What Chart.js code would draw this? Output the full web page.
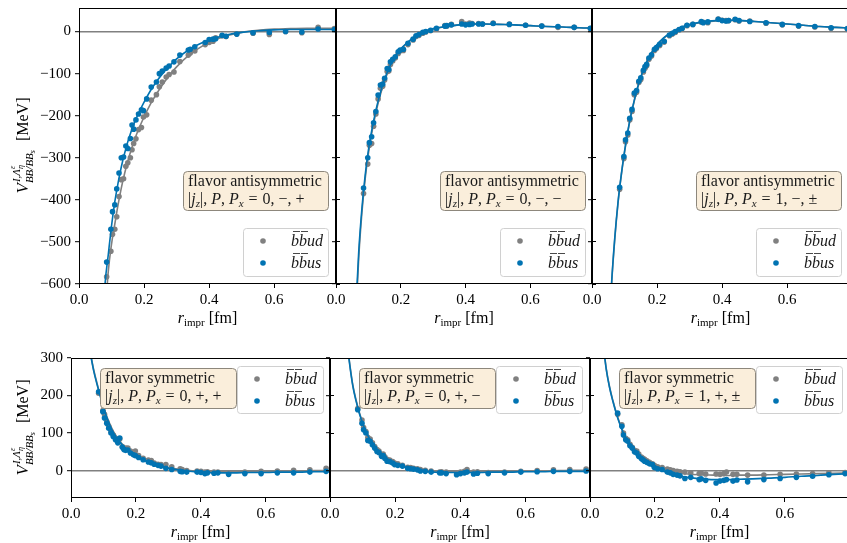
<!DOCTYPE html>
<html><head><meta charset="utf-8">
<script src="https://cdn.jsdelivr.net/npm/chart.js@4/dist/chart.umd.min.js"></script>
<style>
html,body{margin:0;padding:0;background:#fff;overflow:hidden;width:847px;height:543px;position:relative;}
canvas{position:absolute;}
</style></head><body>
<script>
// ---------- data ----------
const R = [0.085,0.098,0.103,0.110,0.116,0.123,0.130,0.137,0.144,0.150,0.158,0.163,0.168,0.175,0.183,0.192,0.198,0.208,0.222,0.238,0.247,0.256,0.268,0.277,0.292,0.310,0.336,0.342,0.356,0.388,0.400,0.412,0.420,0.440,0.452,0.485,0.535,0.585,0.635,0.685,0.735,0.785];
const RC = [0.04,0.05,0.06,0.07,0.08,0.09,0.10,0.11,0.12,0.13,0.14,0.15,0.16,0.17,0.18,0.20,0.22,0.24,0.26,0.28,0.30,0.34,0.38,0.42,0.46,0.50,0.55,0.60,0.65,0.70,0.75,0.80];

const A1_UD = [-583,-522,-482,-470,-440,-392,-352,-350,-320,-312,-300,-281,-266,-255,-233,-228,-203,-198,-163,-150,-131,-120,-108,-102,-96,-71,-56,-51,-46,-31,-26,-23,-15,-10,-12,-6,-4,-7,0,-3,10,7];
const A1_US = [-548,-470,-428,-412,-374,-336,-300,-298,-272,-278,-254,-222,-232,-210,-196,-186,-188,-160,-132,-120,-100,-94,-87,-82,-72,-56,-44,-42,-36,-26,-19,-18,-17,-9,-11,-6,-3,-2,0,-1,6,5];
const A1_UD_FIT = [null,null,null,null,-680,-570,-505,-458,-412,-372,-338,-308,-282,-259,-238,-203,-172,-146,-123,-102,-84,-55,-34,-19,-9,-2,3,6,7,8,8,8];
const A1_US_FIT = [null,null,null,-730,-600,-530,-462,-405,-360,-322,-290,-262,-238,-217,-199,-168,-140,-117,-97,-80,-65,-42,-26,-15,-7,-2,2,4,5,5,5,5];

const A2_UD = [-385,-315,-270,-266,-225,-196,-160,-135,-130,-115,-95,-94,-78,-70,-63,-52,-46,-45,-31,-20,-12,-9,-4,-1,2,6,14,13,17,24,18,20,19,19,18,20,18,15,13,10,10,7];
const A2_US = [-372,-300,-264,-250,-217,-190,-151,-127,-125,-111,-88,-90,-72,-66,-60,-48,-44,-42,-28,-18,-10,-7,-2,0,3,8,13,14,16,18,16,17,18,18,18,19,17,15,13,12,10,8];
const A2_UD_FIT = [null,null,-700,-540,-430,-350,-290,-243,-204,-170,-142,-117,-97,-80,-65,-43,-27,-15,-6,1,6,12,16,18,18,17,16,14,12,11,9,8];
const A2_US_FIT = [null,null,-680,-525,-420,-342,-282,-236,-198,-165,-137,-113,-93,-76,-62,-41,-26,-14,-5,2,7,12,16,18,18,17,16,14,12,11,9,8];

const A3_UD = [-375,-302,-262,-246,-210,-190,-150,-144,-121,-114,-96,-87,-81,-66,-58,-45,-40,-33,-25,-10,-6,-2,4,7,14,17,22,22,21,30,27,26,26,28,25,25,20,16,13,11,8,6];
const A3_US = [-370,-297,-257,-241,-206,-185,-146,-140,-118,-110,-92,-83,-78,-63,-55,-42,-38,-30,-23,-8,-4,0,5,8,15,17,24,21,23,29,26,25,26,29,26,24,21,17,14,12,9,7];
const A3_UD_FIT = [null,-770,-605,-494,-408,-342,-287,-239,-199,-165,-135,-110,-88,-70,-55,-32,-16,-5,4,11,16,22,25,27,26,24,21,18,15,12,10,8];
const A3_US_FIT = [null,-760,-600,-490,-405,-340,-285,-237,-197,-163,-133,-108,-87,-69,-54,-31,-15,-4,5,12,17,23,26,27,26,24,21,18,15,12,10,8];

const B1_UD = [206,160,150,130,118,104,95,86,78,84,64,58,60,60,52,46,52,40,33,28,27,20,17,16,16,10,5,3,0,-1,-2,-4,-3,-4,-4,-6,-4,-2,-1,1,2,6];
const B1_US = [210,157,140,126,113,100,91,82,74,87,62,56,54,55,47,42,40,35,29,23,21,17,14,12,6,3,-2,-3,-4,-4,-5,-8,-6,-7,-6,-10,-8,-8,-6,-6,-4,-2];
const B1_UD_FIT = [null,null,312,268,233,201,171,145,123,105,91,79,68,59,52,40,31,23,17,12,8,2,-1,-2,-3,-3,-2,-2,-1,-1,0,0];
const B1_US_FIT = [null,null,310,265,230,198,168,142,120,102,88,76,66,57,50,38,29,22,16,11,6,1,-3,-5,-6,-6,-5,-5,-4,-4,-3,-3];

const B2_UD = [165,135,115,104,88,84,74,64,56,52,43,44,37,30,28,24,20,18,14,9,8,6,5,3,1,-1,-4,-3,-4,-6,-4,-2,3,-4,-3,-5,-4,-2,0,2,3,4];
const B2_US = [162,126,109,100,80,78,69,60,51,48,38,40,33,25,24,20,16,14,12,6,5,4,2,-1,-2,-4,-6,-6,-8,-11,-8,-6,-4,-9,-7,-8,-6,-4,-3,-2,-2,-1];
const B2_UD_FIT = [null,362,288,228,188,155,129,107,90,76,64,53,44,37,31,21,14,8,3,0,-2,-3,-3,-3,-3,-2,-2,-1,-1,0,1,1];
const B2_US_FIT = [null,360,285,225,185,152,126,104,87,73,61,51,42,35,29,19,12,6,2,-1,-3,-5,-5,-5,-5,-4,-4,-3,-3,-2,-2,-2];

const B3_UD = [150,122,100,86,82,70,62,54,52,44,36,33,30,26,22,18,14,10,8,4,2,0,-2,-3,-4,-6,-8,-6,-9,-9,-10,-8,-4,-10,-10,-12,-12,-10,-9,-8,-6,-5];
const B3_US = [153,118,95,82,78,66,60,50,47,38,32,29,25,22,18,16,8,5,3,-4,-6,-10,-12,-14,-21,-18,-24,-22,-26,-33,-28,-26,-24,-28,-25,-30,-24,-21,-18,-15,-11,-8];
const B3_UD_FIT = [342,272,224,188,157,130,108,90,76,63,52,43,35,28,22,11,5,0,-4,-7,-9,-11,-12,-13,-12,-12,-11,-10,-9,-8,-7,-6];
const B3_US_FIT = [340,270,222,186,155,128,105,88,73,60,49,40,32,25,19,7,0,-6,-11,-15,-18,-22,-24,-24,-23,-22,-20,-18,-15,-13,-10,-8];

const X_TICKS = [0, 0.2, 0.4, 0.6];
const Y_TICKS_TOP = [-600,-500,-400,-300,-200,-100,0];
const Y_TICKS_BOT = [0,100,200,300];
const SERIES = ['bbud','bbus'];
const TITLES = ['flavor antisymmetric','flavor antisymmetric','flavor antisymmetric','flavor symmetric','flavor symmetric','flavor symmetric'];
const QN = [['0','\u2212','+'],['0','\u2212','\u2212'],['1','\u2212','\u00b1'],['0','+','+'],['0','+','\u2212'],['1','+','\u00b1']];

// ---------- style ----------
const FONT = "'Liberation Serif','DejaVu Serif',serif";
const GRAY = '#808080', BLUE = '#0173b2';
const fnt = (s, it) => (it ? 'italic ' : '') + s + 'px ' + FONT;

// run: [text, size, italic, dy] or [null, gapPx]
function runs(ctx, list, x, y) {
  for (const r of list) {
    if (r[0] === null) { x += r[1]; continue; }
    const [t, s, it, dy] = r;
    ctx.font = fnt(s, it);
    ctx.fillText(t, x, y + dy);
    x += ctx.measureText(t).width;
  }
  return x;
}
function runsWidth(ctx, list) {
  let w = 0;
  for (const r of list) {
    if (r[0] === null) { w += r[1]; continue; }
    ctx.font = fnt(r[1], r[2]); w += ctx.measureText(r[0]).width;
  }
  return w;
}
function rrect(ctx, x, y, w, h, r) {
  ctx.beginPath();
  ctx.moveTo(x + r, y); ctx.lineTo(x + w - r, y); ctx.quadraticCurveTo(x + w, y, x + w, y + r);
  ctx.lineTo(x + w, y + h - r); ctx.quadraticCurveTo(x + w, y + h, x + w - r, y + h);
  ctx.lineTo(x + r, y + h); ctx.quadraticCurveTo(x, y + h, x, y + h - r);
  ctx.lineTo(x, y + r); ctx.quadraticCurveTo(x, y, x + r, y); ctx.closePath();
}

const PANELS = [
  {L:79, R:336, T:8, B:284, xmax:0.79, ymin:-600, ymax:56, yt:Y_TICKS_TOP, ud:A1_UD, us:A1_US, udf:A1_UD_FIT, usf:A1_US_FIT, i:0, first:true, top:true},
  {L:336, R:592, T:8, B:284, xmax:0.79, ymin:-600, ymax:56, yt:Y_TICKS_TOP, ud:A2_UD, us:A2_US, udf:A2_UD_FIT, usf:A2_US_FIT, i:1, first:false, top:true},
  {L:592, R:849, T:8, B:284, xmax:0.79, ymin:-600, ymax:56, yt:Y_TICKS_TOP, ud:A3_UD, us:A3_US, udf:A3_UD_FIT, usf:A3_US_FIT, i:2, first:false, top:true},
  {L:71, R:330, T:358, B:498, xmax:0.797, ymin:-73, ymax:300, yt:Y_TICKS_BOT, ud:B1_UD, us:B1_US, udf:B1_UD_FIT, usf:B1_US_FIT, i:3, first:true, top:false},
  {L:330, R:590, T:358, B:498, xmax:0.797, ymin:-73, ymax:300, yt:Y_TICKS_BOT, ud:B2_UD, us:B2_US, udf:B2_UD_FIT, usf:B2_US_FIT, i:4, first:false, top:false},
  {L:590, R:849, T:358, B:498, xmax:0.797, ymin:-73, ymax:300, yt:Y_TICKS_BOT, ud:B3_UD, us:B3_US, udf:B3_UD_FIT, usf:B3_US_FIT, i:5, first:false, top:false},
];

const pts = (xs, ys) => xs.map((x, k) => ({x: x, y: ys[k]}));
const fmtY = v => v < 0 ? '\u2212' + Math.abs(v) : String(v);

function makePanel(p) {
  const padL = p.first ? p.L : 30, padR = 20, padT = 16, padB = p.top ? 50 : 45;
  const W = p.R - p.L + padL + padR, H = p.B - p.T + padT + padB;
  const c = document.createElement('canvas');
  c.width = W; c.height = H;
  c.style.left = (p.L - padL) + 'px'; c.style.top = (p.T - padT) + 'px';
  c.style.width = W + 'px'; c.style.height = H + 'px';
  document.body.appendChild(c);

  const yTicks = s => { s.ticks = p.yt.map(v => ({value: v})); };
  const deco = {
    id: 'deco',
    afterDraw(chart) {
      const ctx = chart.ctx, a = chart.chartArea;
      ctx.save();
      // frame
      ctx.strokeStyle = '#000'; ctx.lineWidth = 1;
      ctx.strokeRect(Math.round(a.left) + 0.5, Math.round(a.top) + 0.5, Math.round(a.right - a.left) - 1, Math.round(a.bottom - a.top) - 1);
      ctx.textBaseline = 'alphabetic';
      // annotation box
      let ax, ay, aw, ah, lx, ly, lw, lh;
      if (p.top) { ax = a.left + 104; ay = a.top + 163; aw = 145; ah = 39; lx = a.left + 164; ly = a.top + 220; lw = 85; lh = 48; }
      else { ax = a.left + 29; ay = a.top + 10; aw = 136; ah = 40; lx = a.left + 166; ly = a.top + 8; lw = 86; lh = 47; }
      rrect(ctx, ax + 0.5, ay + 0.5, aw, ah, 4);
      ctx.fillStyle = '#faeedb'; ctx.fill();
      ctx.strokeStyle = '#8d877c'; ctx.lineWidth = 1; ctx.stroke();
      ctx.fillStyle = '#1a1a1a';
      runs(ctx, [[TITLES[p.i], 16, false, 0]], ax + 5, ay + 15);
      const q = QN[p.i];
      runs(ctx, [['|', 16, false, 0], ['j', 16, true, 0], ['z', 11, true, 3], ['|,', 16, false, 0], [null, 4],
                 ['P', 16, true, 0], [',', 16, false, 0], [null, 4], ['P', 16, true, 0], ['x', 11, true, 3],
                 [null, 5], ['=', 16, false, 0], [null, 5], [q[0] + ',', 16, false, 0], [null, 4],
                 [q[1] + ',', 16, false, 0], [null, 4], [q[2], 16, false, 0]], ax + 5, ay + 33);
      // legend
      rrect(ctx, lx + 0.5, ly + 0.5, lw, lh, 3);
      ctx.fillStyle = 'rgba(255,255,255,0.85)'; ctx.fill();
      ctx.strokeStyle = '#d0d0d0'; ctx.stroke();
      const cols = [GRAY, BLUE];
      for (let k = 0; k < 2; k++) {
        const yy = ly + 13 + k * 22;
        ctx.fillStyle = cols[k];
        ctx.beginPath(); ctx.arc(lx + 20, yy, 2.8, 0, Math.PI * 2); ctx.fill();
        ctx.fillStyle = '#1a1a1a';
        ctx.font = fnt(16, true);
        const tx = lx + 48;
        ctx.fillText(SERIES[k], tx, yy + 5);
        const wb = ctx.measureText('b').width;
        ctx.strokeStyle = '#1a1a1a'; ctx.lineWidth = 0.8;
        ctx.beginPath();
        ctx.moveTo(tx + 2, yy - 9.5); ctx.lineTo(tx + wb + 1, yy - 9.5);
        ctx.moveTo(tx + wb + 2, yy - 9.5); ctx.lineTo(tx + 2 * wb + 1, yy - 9.5);
        ctx.stroke();
      }
      // x title
      ctx.fillStyle = '#000';
      const xt = [['r', 16, true, 0], ['impr', 11, false, 3], [null, 4], ['[fm]', 16, false, 0]];
      const xw = runsWidth(ctx, xt);
      runs(ctx, xt, (a.left + a.right) / 2 - xw / 2, a.bottom + 39);
      // y title
      if (p.first) {
        ctx.save();
        ctx.translate(28, (a.top + a.bottom) / 2);
        ctx.rotate(-Math.PI / 2);
        ctx.font = fnt(17, true);
        const wV = ctx.measureText('V').width;
        ctx.font = fnt(11, true); const wSup = ctx.measureText('I,\u039b').width;
        ctx.font = fnt(8, true); const wE = ctx.measureText('\u03b5').width;
        ctx.font = fnt(11, true); const wSub = ctx.measureText('BB/BB').width;
        ctx.font = fnt(8, true); const wS = ctx.measureText('s').width;
        ctx.font = fnt(16, false); const wM = ctx.measureText('[MeV]').width;
        const sw = Math.max(wSup + wE + 1, wSub + wS);
        const total = wV + sw + 8 + wM;
        const x0 = -total / 2;
        runs(ctx, [['V', 17, true, 0]], x0, 0);
        const xs = x0 + wV + 1;
        const xx = runs(ctx, [['I,\u039b', 11, true, -8]], xs, 0);
        runs(ctx, [['\u03b5', 8, true, -13]], xx, 0);
        runs(ctx, [['\u03b7', 8, true, -5]], xx, 0);
        const xb = runs(ctx, [['BB/BB', 11, true, 5]], xs - 1, 0);
        runs(ctx, [['s', 8, true, 7]], xb, 0);
        runs(ctx, [['[MeV]', 16, false, 0]], xs + sw + 8, 0);
        ctx.restore();
      }
      ctx.restore();
    }
  };

  new Chart(c, {
    type: 'scatter',
    data: {datasets: [
      {data: pts(R, p.us), backgroundColor: BLUE, borderColor: BLUE, pointRadius: 2.8, pointBorderWidth: 0, order: 0},
      {data: pts(RC, p.usf), showLine: true, borderColor: BLUE, borderWidth: 1.6, pointRadius: 0, cubicInterpolationMode: 'monotone', order: 1},
      {data: pts(R, p.ud), backgroundColor: GRAY, borderColor: GRAY, pointRadius: 2.8, pointBorderWidth: 0, order: 2},
      {data: pts(RC, p.udf), showLine: true, borderColor: GRAY, borderWidth: 1.6, pointRadius: 0, cubicInterpolationMode: 'monotone', order: 3},
    ]},
    options: {
      responsive: false, animation: false, events: [],
      layout: {padding: {top: padT, left: 0, right: 0, bottom: 0}},
      plugins: {legend: {display: false}, tooltip: {enabled: false}},
      scales: {
        x: {
          type: 'linear', position: 'bottom', min: 0, max: p.xmax,
          afterBuildTicks: s => { s.ticks = X_TICKS.map(v => ({value: v})); },
          afterFit: s => { s.height = padB; },
          ticks: {autoSkip: false, maxRotation: 0, padding: 3, color: '#000', font: {family: FONT, size: 15}, callback: v => Number(v).toFixed(1)},
          grid: {drawOnChartArea: false, tickLength: 4, tickColor: '#000', tickWidth: 1},
          border: {display: false}
        },
        y: {
          type: 'linear', position: 'left', min: p.ymin, max: p.ymax,
          afterBuildTicks: yTicks,
          afterFit: s => { s.width = padL; },
          ticks: {autoSkip: false, padding: 4, color: p.first ? '#000' : 'rgba(0,0,0,0)', font: {family: FONT, size: 15}, callback: v => fmtY(v)},
          grid: {drawOnChartArea: true, color: ctx => (ctx.tick && ctx.tick.value === 0) ? GRAY : 'rgba(0,0,0,0)', lineWidth: 1.4, tickLength: 4, tickColor: '#000', tickWidth: 1},
          border: {display: false}
        },
        y2: {
          type: 'linear', position: 'right', min: p.ymin, max: p.ymax,
          afterBuildTicks: yTicks,
          afterFit: s => { s.width = padR; },
          ticks: {autoSkip: false, color: 'rgba(0,0,0,0)', callback: () => ''},
          grid: {drawOnChartArea: false, tickLength: 4, tickColor: '#000', tickWidth: 1},
          border: {display: false}
        }
      }
    },
    plugins: [deco]
  });
}

PANELS.forEach(makePanel);
</script>
</body></html>
